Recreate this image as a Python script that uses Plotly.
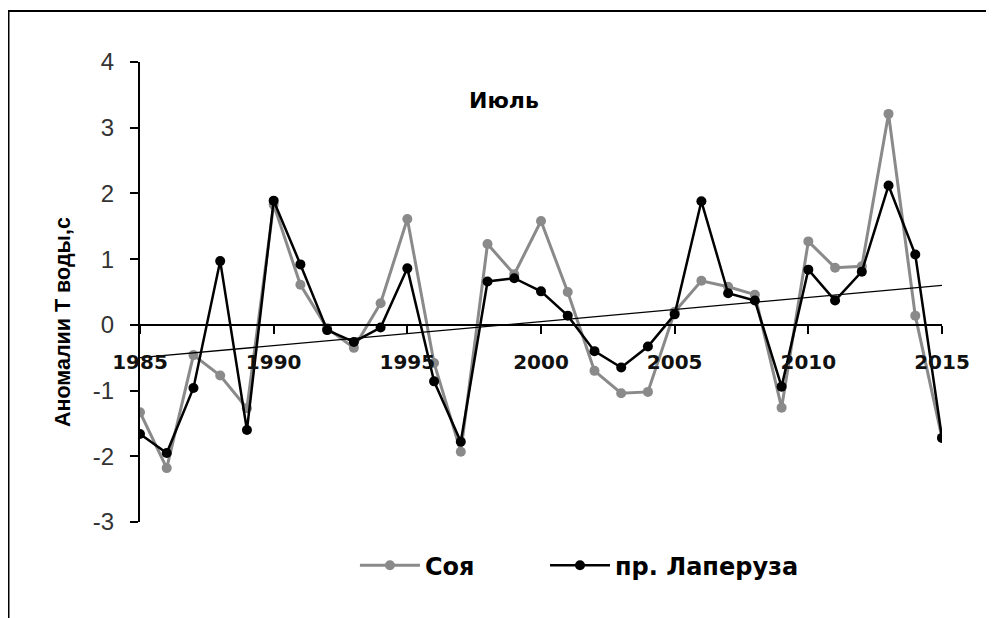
import plotly.graph_objects as go

years = list(range(1985, 2016))
soya = [-1.33, -2.18, -0.46, -0.77, -1.27, 1.83, 0.61, -0.05, -0.35, 0.33,
        1.61, -0.58, -1.93, 1.23, 0.77, 1.58, 0.50, -0.70, -1.04, -1.02,
        0.20, 0.67, 0.58, 0.46, -1.26, 1.27, 0.87, 0.89, 3.21, 0.14, -1.72]
laperuza = [-1.66, -1.95, -0.96, 0.97, -1.60, 1.89, 0.92, -0.08, -0.26, -0.04,
            0.86, -0.86, -1.78, 0.66, 0.71, 0.51, 0.14, -0.40, -0.65, -0.33,
            0.16, 1.88, 0.48, 0.37, -0.94, 0.84, 0.37, 0.81, 2.12, 1.07, -1.72]
trend_x = [1985, 2015]
trend_y = [-0.50, 0.60]

x_ticks = [1985, 1990, 1995, 2000, 2005, 2010, 2015]
y_ticks = [-3, -2, -1, 0, 1, 2, 3, 4]
y_tick_text = ["-3", "-2", "-1", "0", "1", "2", "3", "4"]

fig = go.Figure()
fig.add_trace(go.Scatter(x=years, y=soya, mode="lines+markers", name="Соя",
                         line=dict(color="#8a8a8a", width=3),
                         marker=dict(color="#8a8a8a", size=10), legend="legend"))
fig.add_trace(go.Scatter(x=years, y=laperuza, mode="lines+markers", name="пр. Лаперуза",
                         line=dict(color="#000000", width=2.5),
                         marker=dict(color="#000000", size=10), legend="legend2"))
fig.add_trace(go.Scatter(x=trend_x, y=trend_y, mode="lines", showlegend=False,
                         line=dict(color="#000000", width=1.3), hoverinfo="skip"))

W, H = 986, 610
L, R, T, B = 132, 52, 54, 96
PW, PH = W - L - R, H - T - B
BOLD = "DejaVu Sans, Liberation Sans, Arial"
leg_font = dict(size=24, family=BOLD, weight="bold")

fig.update_layout(
    width=W, height=H,
    margin=dict(l=L, r=R, t=T, b=B),
    paper_bgcolor="white", plot_bgcolor="white",
    font=dict(family="Liberation Sans, Arial, sans-serif", color="#000"),
    showlegend=True,
    legend=dict(orientation="h", x=0.268, xanchor="left", y=-0.095, yanchor="middle",
                font=leg_font, itemwidth=60, bgcolor="rgba(0,0,0,0)"),
    legend2=dict(orientation="h", x=0.505, xanchor="left", y=-0.095, yanchor="middle",
                 font=leg_font, itemwidth=60, bgcolor="rgba(0,0,0,0)"),
    xaxis=dict(range=[1985, 2015], tickvals=x_ticks, ticktext=[str(v) for v in x_ticks],
               showgrid=False, zeroline=False, showline=True, linecolor="black", linewidth=2,
               ticks="outside", ticklen=8, tickwidth=2, tickcolor="black",
               anchor="free", position=3/7, ticklabelstandoff=11,
               tickfont=dict(size=20, family=BOLD, weight="bold", color="#111")),
    yaxis=dict(range=[-3, 4], tickvals=y_ticks, ticktext=y_tick_text,
               showgrid=False, zeroline=False,
               showline=True, linecolor="black", linewidth=2,
               ticks="outside", ticklen=8, tickwidth=2, tickcolor="black",
               ticklabelstandoff=11,
               tickfont=dict(size=24, family="Liberation Sans, Arial", color="#333")),
    annotations=[
        dict(text="<b>Июль</b>", x=(504 - 8 - L) / PW, y=(H - B - (101 - 8)) / PH,
             xref="paper", yref="paper", xanchor="center", yanchor="middle",
             showarrow=False, font=dict(size=22, family=BOLD)),
        dict(text="<b>Аномалии Т воды,с</b>", x=(63 - 8 - L) / PW, y=(H - B - (322 - 8)) / PH,
             xref="paper", yref="paper", xanchor="center", yanchor="middle",
             textangle=-90, showarrow=False, font=dict(size=21.5, family="Liberation Sans, Arial")),
    ],
    shapes=[
        dict(type="line", xref="paper", yref="paper", x0=(0 - L) / PW, x1=(W + 20 - L) / PW,
             y0=(H - B - 3) / PH, y1=(H - B - 3) / PH, line=dict(color="black", width=2)),
        dict(type="line", xref="paper", yref="paper", x0=(0.5 - L) / PW, x1=(0.5 - L) / PW,
             y0=(H - B - 3) / PH, y1=(H - B - H - 20) / PH, line=dict(color="black", width=2)),
    ],
)
fig.write_html("out.html")
